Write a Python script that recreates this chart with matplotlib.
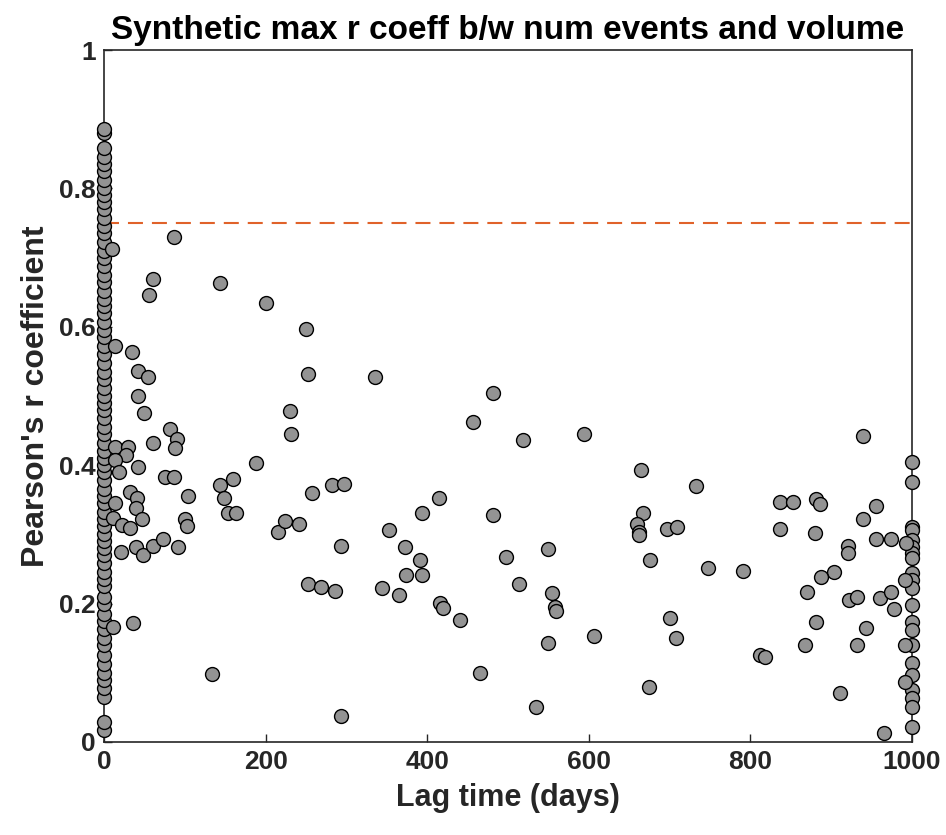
import numpy as np
import matplotlib.pyplot as plt

# lag (days) / max Pearson r pairs
# stack at lag = 0
lag0_r = [0.017, 0.029, 0.065, 0.078, 0.090, 0.100, 0.112, 0.125, 0.140, 0.150,
          0.163, 0.175, 0.185, 0.200, 0.210, 0.225, 0.235, 0.245, 0.258, 0.270,
          0.280, 0.290, 0.300, 0.312, 0.322, 0.333, 0.345, 0.355, 0.365, 0.378,
          0.390, 0.400, 0.410, 0.420, 0.432, 0.445, 0.455, 0.468, 0.480, 0.490,
          0.500, 0.512, 0.525, 0.535, 0.548, 0.560, 0.572, 0.585, 0.595, 0.607,
          0.620, 0.630, 0.640, 0.652, 0.665, 0.675, 0.688, 0.700, 0.710, 0.722,
          0.735, 0.745, 0.757, 0.770, 0.780, 0.790, 0.800, 0.812, 0.825, 0.835,
          0.845, 0.858, 0.880, 0.886]

# stack at lag = 1000
lag1000_r = [0.404, 0.376, 0.311, 0.306, 0.292, 0.282, 0.273, 0.266, 0.244, 0.234,
             0.223, 0.198, 0.173, 0.162, 0.140, 0.114, 0.097, 0.075, 0.064, 0.051,
             0.022]

# scattered points in between
lag_mid = [10, 86, 60, 56, 144, 201, 14, 35, 42, 55, 42, 50, 82, 90, 88, 60, 14, 30,
           27, 14, 19, 42, 76, 87, 188, 159, 144, 148, 104, 32, 41, 14, 39, 154, 163,
           11, 47, 100, 103, 22, 32, 215, 21, 39, 48, 60, 73, 91, 11, 36, 133,
           250, 252, 335, 230, 232, 482, 457, 519, 258, 282, 297, 415, 394, 482, 224,
           241, 353, 293, 373, 391, 497, 550, 374, 394, 513, 253, 268, 286, 344, 365,
           555, 558, 560, 416, 419, 441, 549, 465, 535, 293,
           594, 665, 733, 837, 853, 837, 667, 660, 662, 662, 697, 709, 676, 748, 791,
           606, 700, 708, 812, 818, 674,
           939, 881, 886, 956, 939, 880, 921, 921, 955, 974, 993, 903, 888, 991, 870,
           922, 932, 960, 974, 978, 881, 943, 868, 932, 991, 991, 911, 965]
r_mid = [0.712, 0.730, 0.669, 0.646, 0.663, 0.634, 0.572, 0.564, 0.536, 0.527, 0.500,
         0.475, 0.452, 0.438, 0.425, 0.432, 0.426, 0.426, 0.415, 0.407, 0.390, 0.397,
         0.383, 0.383, 0.403, 0.380, 0.371, 0.353, 0.355, 0.361, 0.352, 0.345, 0.338,
         0.331, 0.331, 0.324, 0.322, 0.322, 0.312, 0.313, 0.309, 0.303, 0.274, 0.282,
         0.270, 0.283, 0.293, 0.282, 0.166, 0.172, 0.098,
         0.597, 0.532, 0.527, 0.478, 0.445, 0.504, 0.462, 0.436, 0.360, 0.371, 0.373,
         0.353, 0.331, 0.328, 0.319, 0.315, 0.306, 0.283, 0.282, 0.263, 0.267, 0.279,
         0.241, 0.241, 0.228, 0.228, 0.224, 0.218, 0.223, 0.212, 0.215, 0.195, 0.190,
         0.201, 0.194, 0.176, 0.143, 0.100, 0.051, 0.038,
         0.445, 0.393, 0.370, 0.347, 0.347, 0.308, 0.331, 0.315, 0.303, 0.299, 0.308,
         0.311, 0.263, 0.252, 0.247, 0.153, 0.179, 0.150, 0.126, 0.123, 0.080,
         0.442, 0.351, 0.344, 0.341, 0.322, 0.302, 0.283, 0.273, 0.293, 0.293, 0.288,
         0.246, 0.238, 0.234, 0.217, 0.205, 0.210, 0.208, 0.217, 0.192, 0.173, 0.165,
         0.140, 0.140, 0.140, 0.087, 0.071, 0.013]

threshold = 0.75

lags = np.concatenate([np.zeros(len(lag0_r)), np.full(len(lag1000_r), 1000), lag_mid])
rs = np.concatenate([lag0_r, lag1000_r, r_mid])

plt.rcParams['font.family'] = ['Liberation Sans', 'DejaVu Sans']
plt.rcParams['font.weight'] = 'bold'

fig = plt.figure(figsize=(9.46, 8.35), dpi=100)
ax = fig.add_axes([0.110, 0.1114, 0.854, 0.8287])

ax.scatter(lags, rs, s=100, c='#939393', edgecolors='black', linewidths=1.0, zorder=3,
           clip_on=False)
ax.axhline(threshold, ls=(0, (7.2, 4.3)), c='#E0622A', lw=1.5, zorder=2)

ax.set_xlim(0, 1000)
ax.set_ylim(0, 1)
ax.set_xticks(np.arange(0, 1001, 200))
ax.set_yticks([0, 0.2, 0.4, 0.6, 0.8, 1])
ax.set_yticklabels(["0", "0.2", "0.4", "0.6", "0.8", "1"])
ax.tick_params(direction='in', length=6, width=1, colors='#262626', labelsize=19, pad=6)
for sp in ax.spines.values():
    sp.set_color('#262626')
    sp.set_linewidth(1.2)

ax.set_xlabel("Lag time (days)", fontsize=22, fontweight='bold', color='#262626', labelpad=6)
ax.set_ylabel("Pearson's r coefficient", fontsize=23, fontweight='bold', color='#262626',
              labelpad=6)
ax.set_title("Synthetic max r coeff b/w num events and volume", fontsize=24,
             fontweight='bold', color='black', pad=8)

fig.savefig("out.png", dpi=100)
